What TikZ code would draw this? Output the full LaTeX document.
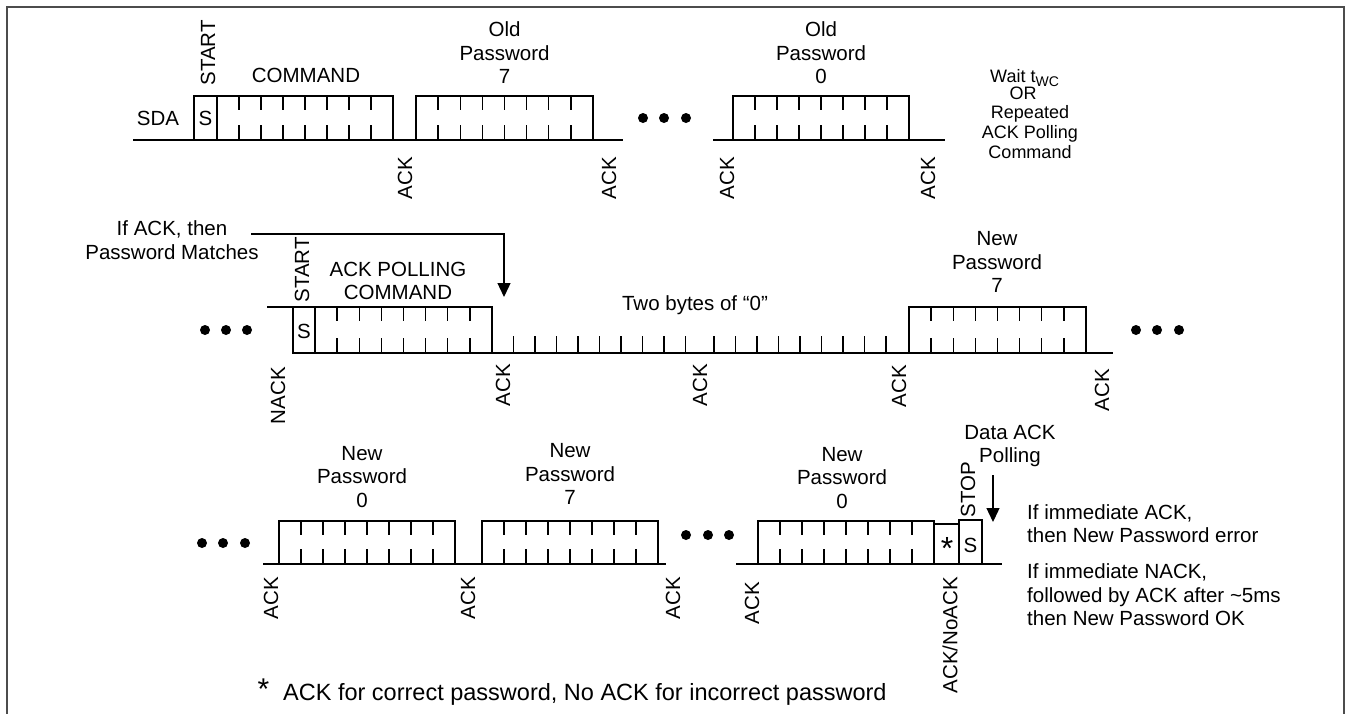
\documentclass[tikz,border=0pt]{standalone}
\usepackage{fontspec}
\setmainfont{Liberation Sans}
\usetikzlibrary{arrows.meta}
\newcommand\fa{\fontsize{20.5}{23.5}\selectfont}
\newcommand\fb{\fontsize{18}{20}\selectfont}
\newcommand\fc{\fontsize{23.5}{26}\selectfont}
\newcommand\bytebox[4]{%
  \draw[sigline] (#1,#3) rectangle (#2,#4);
  \foreach \k in {1,...,7}{%
    \pgfmathsetmacro\xx{#1+(#2-#1)*\k/8}
    \draw[sigline] (\xx,#3) -- ++(0,14) (\xx,#4) -- ++(0,-15);
  }%
}
\tikzset{
  sigline/.style={line width=1.3pt, black},
  lbl/.style={font=\fa, align=center, inner sep=0pt},
  acklbl/.style={font=\fa, rotate=90, anchor=east, inner sep=0pt},
  dotc/.style={fill=black},
  framel/.style={line width=2pt, black!70},
  tip/.style={-{Triangle[width=13pt,length=14pt]}, line width=1.3pt}
}
\begin{document}
\begin{tikzpicture}[x=1pt,y=-1pt]
\useasboundingbox (0,0) rectangle (1351,713);
\draw[framel] (6.5,720) -- (6.5,7) -- (1343.5,7) -- (1343.5,720);

% ---------------- Row 1 ----------------
\node[lbl] (sda) at (158,118) {SDA};
\draw[sigline] (133,140) -- (623,140);
\draw[sigline] (713,140) -- (945,140);
\draw[sigline] (194,96) rectangle (217,140);
\node[lbl] (s1) at (205.5,118) {S};
\node[acklbl] (start1) at (208,20) {START};
\bytebox{217}{393}{96}{140}
\node[lbl] (cmd1) at (306,75) {COMMAND};
\bytebox{416}{593}{96}{140}
\node[lbl] (op7) at (504.5,53) {Old\\Password\\7};
\bytebox{733}{909}{96}{140}
\node[lbl] (op0) at (821,53) {Old\\Password\\0};
\foreach \x [count=\i] in {643,664,686}{\fill[dotc] (\x,118) circle[radius=5pt];}
\node[acklbl] (r1a1) at (405,157) {ACK};
\node[acklbl] (r1a2) at (609,157) {ACK};
\node[acklbl] (r1a3) at (727,157) {ACK};
\node[acklbl] (r1a4) at (928,157) {ACK};
\node[font=\fb, anchor=west, inner sep=0pt] (wait) at (990,78) {Wait t\raisebox{-0.35ex}{\fontsize{14}{14}\selectfont WC}};
\node[font=\fb, inner sep=0pt] (or) at (1023,93) {OR};
\node[font=\fb, align=center, inner sep=0pt] (rep) at (1030,132) {Repeated\\ACK Polling\\Command};

% ---------------- Row 2 ----------------
\node[lbl] (ifack) at (172,240) {If ACK, then\\Password Matches};
\coordinate (a1s) at (251,234);
\coordinate (a1t) at (504,297);
\draw[tip] (a1s) -| (a1t);
\foreach \x in {205,226,247}{\fill[dotc] (\x,330) circle[radius=5pt];}
\draw[sigline] (267,307) -- (293,307);
\draw[sigline] (293,307) rectangle (315,353);
\node[lbl] (s2) at (304,331) {S};
\node[acklbl] (start2) at (302,237) {START};
\bytebox{315}{492}{307}{353}
\node[lbl] (apc) at (398,281) {ACK POLLING\\COMMAND};
\draw[sigline] (293,353) -- (1113,353);
\foreach \k in {1,...,9}{\draw[sigline] ({492+21.5*\k},353) -- ++(0,-17);}
\foreach \k in {0,...,8}{\draw[sigline] ({714+21.5*\k},353) -- ++(0,-17);}
\node[lbl] (two) at (695,305) {Two bytes of “0”};
\bytebox{909}{1086}{307}{353}
\node[lbl] (np7a) at (997,262) {New\\Password\\7};
\foreach \x in {1136,1157,1179}{\fill[dotc] (\x,330) circle[radius=5pt];}
\node[acklbl] (r2n) at (278,367) {NACK};
\node[acklbl] (r2a1) at (503,364) {ACK};
\node[acklbl] (r2a2) at (700,364) {ACK};
\node[acklbl] (r2a3) at (899,365) {ACK};
\node[acklbl] (r2a4) at (1102,369) {ACK};

% ---------------- Row 3 ----------------
\foreach \x in {202,223,245}{\fill[dotc] (\x,543) circle[radius=5pt];}
\draw[sigline] (263,564) -- (666,564);
\bytebox{279}{455}{521}{564}
\node[lbl] (np0a) at (362,477) {New\\Password\\0};
\bytebox{482}{658}{521}{564}
\node[lbl] (np7b) at (570,474) {New\\Password\\7};
\foreach \x in {686,708,729}{\fill[dotc] (\x,535) circle[radius=5pt];}
\draw[sigline] (736,564) -- (1002,564);
\bytebox{758}{934}{521}{564}
\node[lbl] (np0b) at (842,478) {New\\Password\\0};
\draw[sigline] (934,524) rectangle (959,564);
\node[font=\fontsize{32}{32}\selectfont, anchor=base, inner sep=0pt] (ast) at (947,559) {*};
\draw[sigline] (959,520) rectangle (982,564);
\node[lbl] (s3) at (970.5,545) {S};
\node[acklbl] (stop) at (968,462) {STOP};
\node[lbl] (dap) at (1010,446) {Data ACK\\Polling};
\coordinate (a2s) at (993,475);
\coordinate (a2t) at (993,522);
\draw[tip] (a2s) -- (a2t);
\node[acklbl] (r3a1) at (271,577) {ACK};
\node[acklbl] (r3a2) at (468,577) {ACK};
\node[acklbl] (r3a3) at (673,577) {ACK};
\node[acklbl] (r3a4) at (752,582) {ACK};
\node[acklbl] (r3a5) at (950,577) {ACK/NoACK};
\node[font=\fa, align=left, anchor=west, inner sep=0pt] (t1) at (1027,523.5) {If immediate ACK,\\then New Password error};
\node[font=\fa, align=left, anchor=west, inner sep=0pt] (t2) at (1027,595) {If immediate NACK,\\followed by ACK after \textasciitilde5ms\\then New Password OK};

% footnote
\node[font=\fontsize{30}{30}\selectfont, anchor=base, inner sep=0pt] (fast) at (263.5,699) {*};
\node[font=\fc, anchor=west, inner sep=0pt] (fn) at (283,694) {ACK for correct password, No ACK for incorrect password};
\end{tikzpicture}
\end{document}
